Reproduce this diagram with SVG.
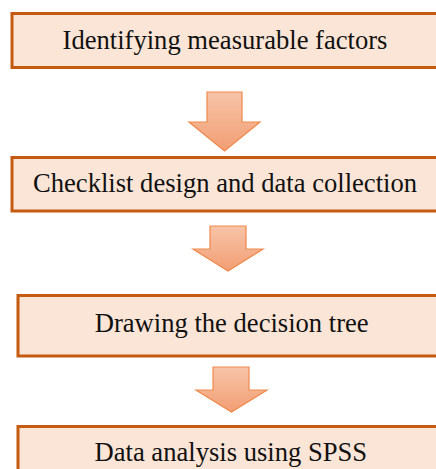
<svg xmlns="http://www.w3.org/2000/svg" width="436" height="469" viewBox="0 0 436 469">
  <defs>
    <linearGradient id="arrowFill" x1="0" y1="0" x2="0" y2="1">
      <stop offset="0" stop-color="#f7c4a8"/>
      <stop offset="1" stop-color="#f29e74"/>
    </linearGradient>
    <style>
      .step rect { fill: #fbe5d6; stroke: #c55a11; stroke-width: 3; }
      .step text { font-family: "Liberation Serif", "Times New Roman", serif; font-size: 26.6px; fill: #111; text-anchor: middle; }
      .flow path { fill: url(#arrowFill); stroke: #f0894c; stroke-width: 1.2; stroke-linejoin: miter; }
    </style>
  </defs>

  <!-- process steps -->
  <g id="step1" class="step">
    <rect x="12" y="13.5" width="440" height="54"/>
    <text x="225" y="48.5">Identifying measurable factors</text>
  </g>
  <g id="step2" class="step">
    <rect x="12" y="157.5" width="440" height="53.5"/>
    <text x="225" y="191.7">Checklist design and data collection</text>
  </g>
  <g id="step3" class="step">
    <rect x="18" y="295.5" width="434" height="60.5"/>
    <text x="231.7" y="331.7">Drawing the decision tree</text>
  </g>
  <g id="step4" class="step">
    <rect x="18" y="426.5" width="434" height="60"/>
    <text x="230.8" y="461">Data analysis using SPSS</text>
  </g>

  <!-- block arrows between steps -->
  <g id="connectors" class="flow">
    <path d="M207 92 H242 V122 H260 L224.5 151 L189 122 H207 Z"/>
    <path d="M210 226 H246 V249 H263 L228 271 L193 249 H210 Z"/>
    <path d="M213 367 H249 V390 H267 L231.5 412 L196 390 H213 Z"/>
  </g>
</svg>
